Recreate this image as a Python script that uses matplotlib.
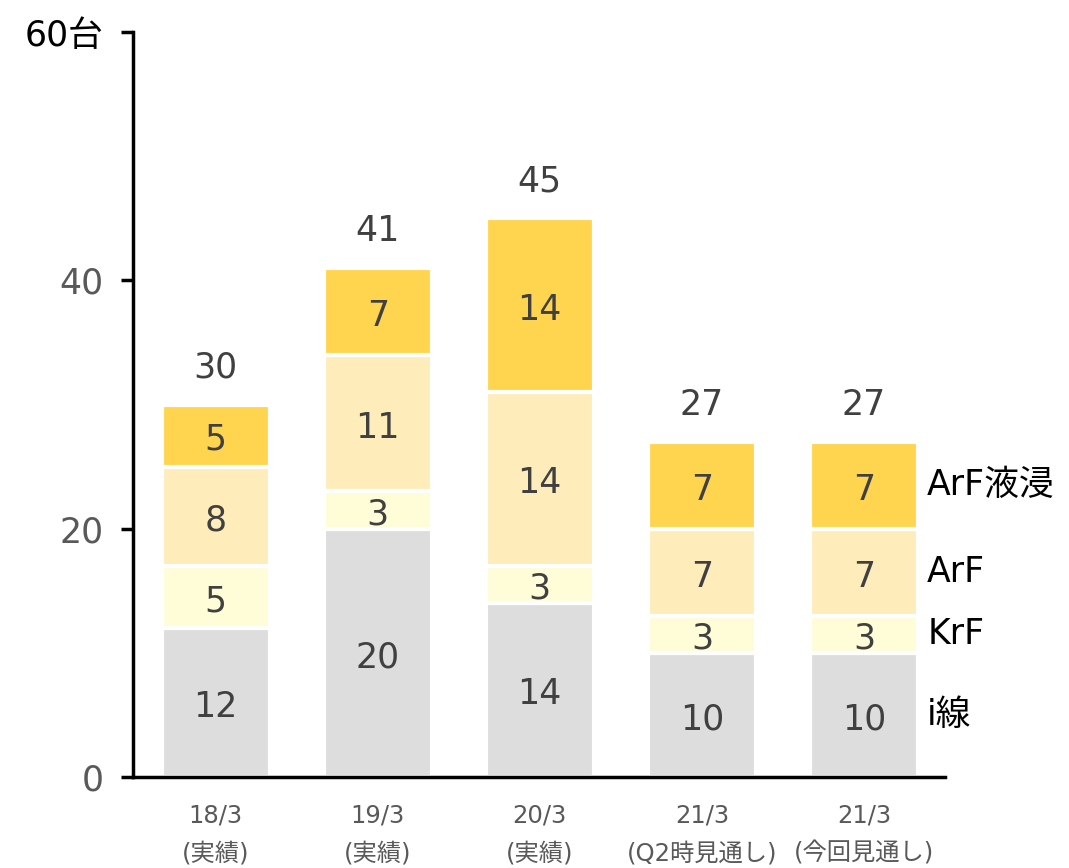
import matplotlib
matplotlib.use("Agg")
import matplotlib.pyplot as plt
import numpy as np

plt.rcParams['font.family'] = ['DejaVu Sans', 'Noto Sans CJK JP']

# 露光装置の販売台数（機種別）
periods = ["18/3\n(実績)", "19/3\n(実績)", "20/3\n(実績)", "21/3\n(Q2時見通し)", "21/3\n(今回見通し)"]
series_names = ["i線", "KrF", "ArF", "ArF液浸"]
i_line = [12, 20, 14, 10, 10]
krf = [5, 3, 3, 3, 3]
arf = [8, 11, 14, 7, 7]
arf_immersion = [5, 7, 14, 7, 7]
colors = ["#DDDDDD", "#FFFCD8", "#FEEDBA", "#FFD54F"]

stack = [i_line, krf, arf, arf_immersion]
x = np.arange(len(periods))

fig = plt.figure(figsize=(10.69, 8.68), dpi=100)
ax = fig.add_axes([0.1244, 0.1048, 0.7596, 0.8582])

bottom = np.zeros(len(periods))
for vals, col in zip(stack, colors):
    vals = np.array(vals, dtype=float)
    ax.bar(x, vals, width=0.665, bottom=bottom, color=col,
           edgecolor="white", linewidth=3)
    for xi, b, v in zip(x, bottom, vals):
        ax.text(xi, b + v / 2 - 0.35, f"{int(v)}", ha="center", va="center",
                fontsize=25, color="#404040")
    bottom += vals

# 合計
for xi, tot in zip(x, bottom):
    ax.text(xi, tot + 3.0, f"{int(tot)}", ha="center", va="center",
            fontsize=25, color="#404040")

# 系列名（右端の棒の横）
b = 0
for vals, name in zip(stack, series_names):
    ax.text(4.39, b + vals[-1] / 2, name, ha="left", va="center",
            fontsize=25, color="black")
    b += vals[-1]

ax.set_xlim(-0.51, 4.5)
ax.set_ylim(0, 60)
ax.set_yticks([0, 20, 40, 60])
ax.set_yticklabels(["0", "20", "40", "60台"], fontsize=25, color="#595959")
ax.get_yticklabels()[-1].set_color("black")
ax.set_xticks(x)
ax.set_xticklabels(periods, fontsize=17.5, color="#595959", linespacing=1.72)

ax.tick_params(axis="y", length=9, width=2.5, pad=12)
ax.tick_params(axis="x", length=0, pad=19)
for s in ["top", "right"]:
    ax.spines[s].set_visible(False)
for s in ["left", "bottom"]:
    ax.spines[s].set_linewidth(2.5)
ax.spines["left"].set_capstyle("projecting")

fig.savefig("out.png", dpi=100)
